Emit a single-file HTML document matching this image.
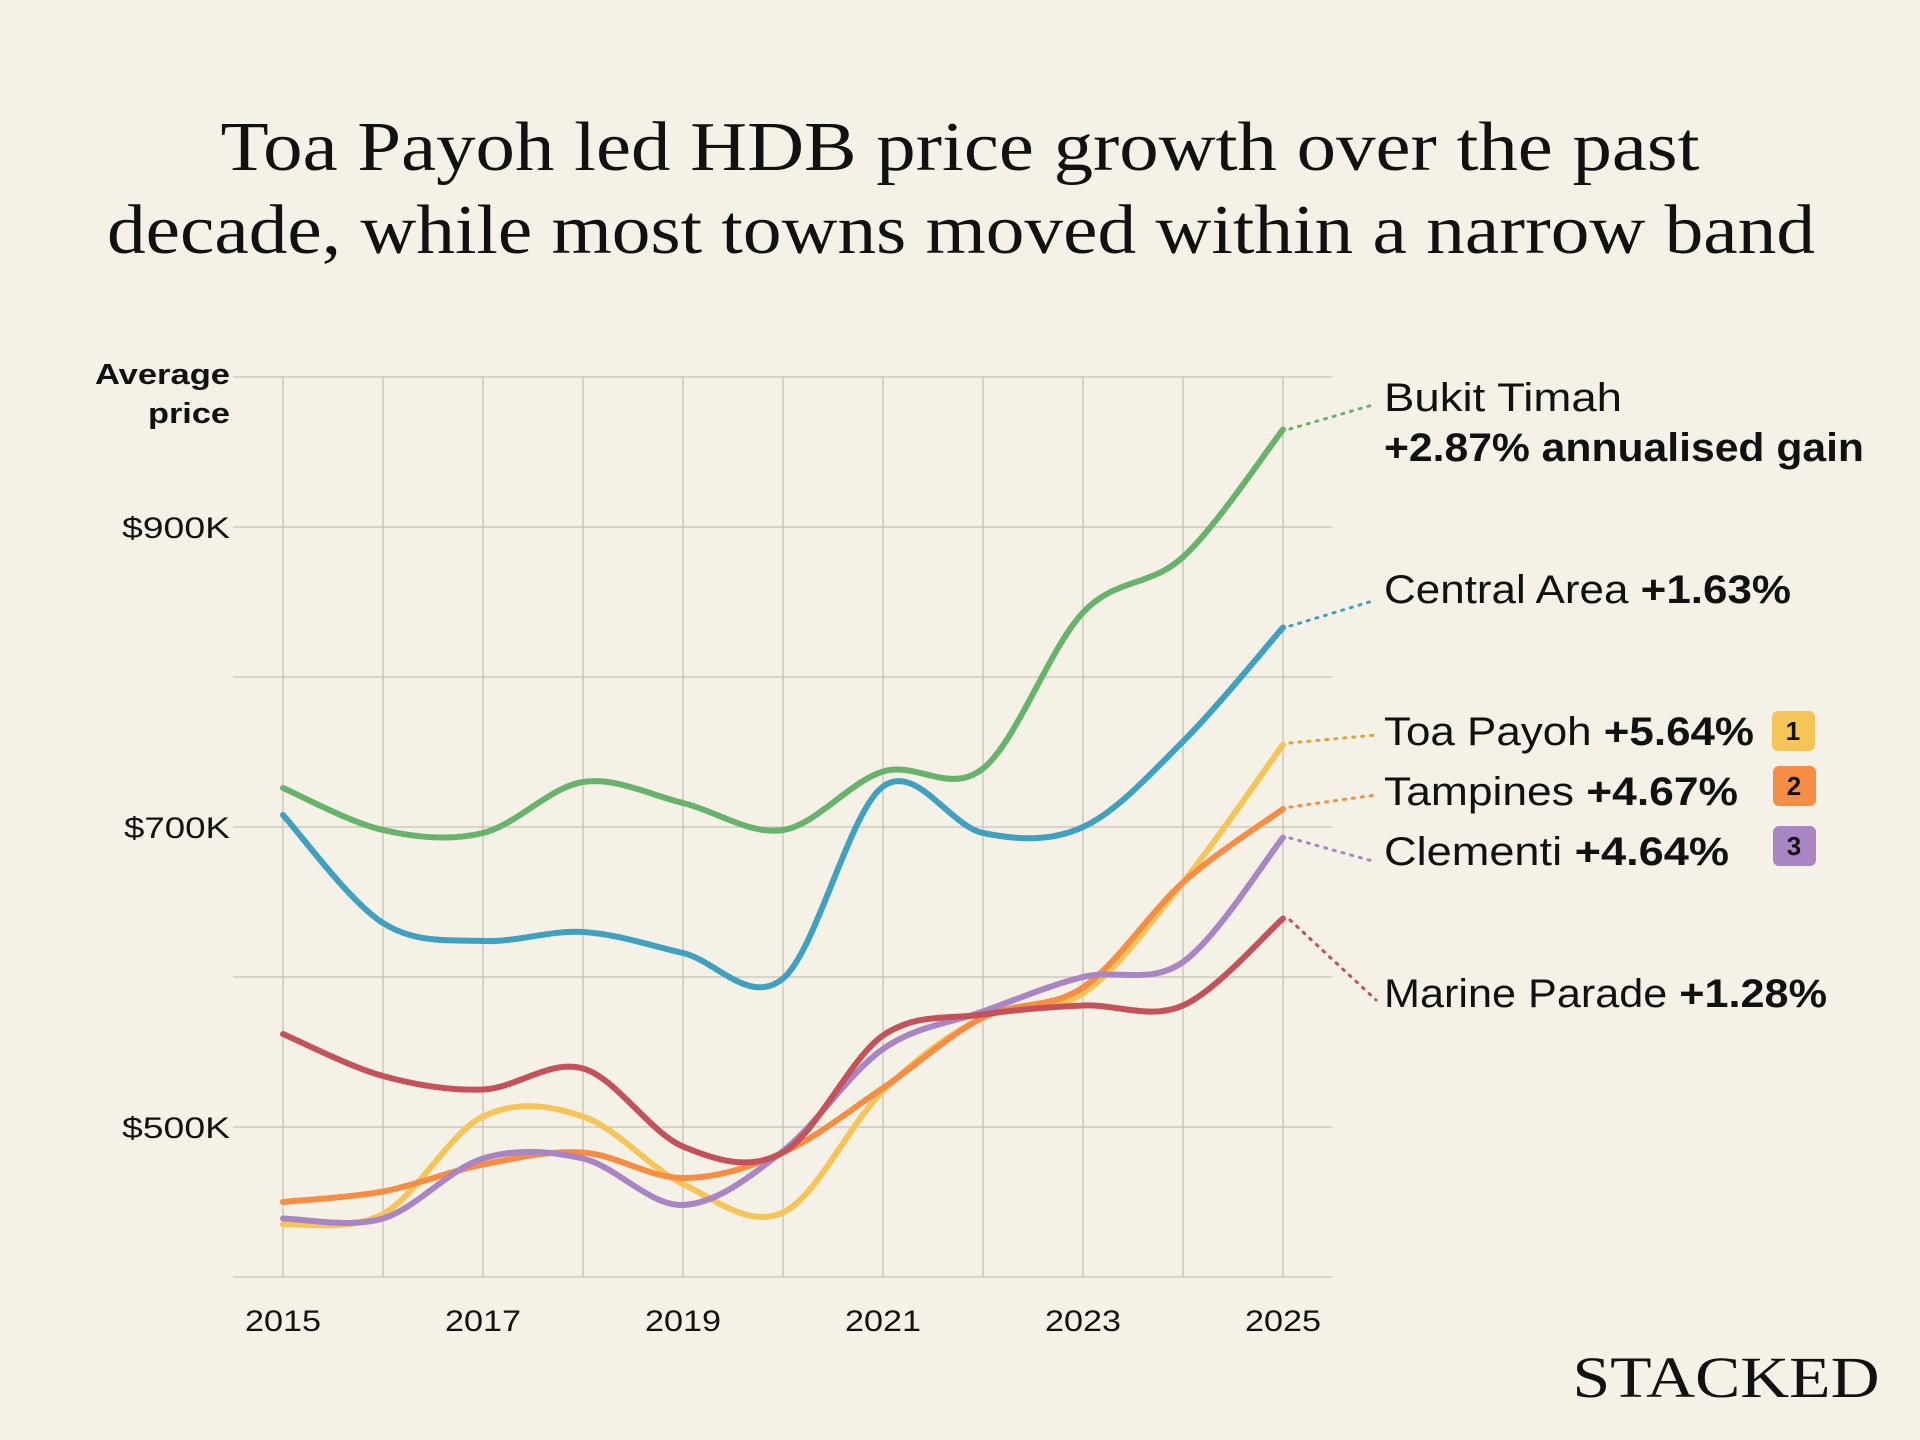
<!DOCTYPE html>
<html><head><meta charset="utf-8"><style>
html,body{margin:0;padding:0;background:#f5f1e6;}
svg{display:block;}
</style></head><body>
<svg id="s" width="1920" height="1440" viewBox="0 0 1920 1440" xmlns="http://www.w3.org/2000/svg">
<rect width="1920" height="1440" fill="#f5f1e6"/>
<g font-family="'Liberation Serif', serif" fill="#111" text-anchor="middle">
<text x="960" y="170" font-size="70" textLength="1479" lengthAdjust="spacingAndGlyphs">Toa Payoh led HDB price growth over the past</text>
<text x="961" y="253" font-size="70" textLength="1708" lengthAdjust="spacingAndGlyphs">decade, while most towns moved within a narrow band</text>
</g>
<g id="grid" stroke="#c6c2b5" stroke-width="1.3"></g>
<g font-family="'Liberation Sans', sans-serif" fill="#111">
<text x="230" y="384" font-size="29" font-weight="bold" text-anchor="end" textLength="135" lengthAdjust="spacingAndGlyphs">Average</text>
<text x="230" y="423" font-size="29" font-weight="bold" text-anchor="end" textLength="82" lengthAdjust="spacingAndGlyphs">price</text>
<text x="230" y="538" font-size="30" text-anchor="end" textLength="108" lengthAdjust="spacingAndGlyphs">$900K</text>
<text x="230" y="838" font-size="30" text-anchor="end" textLength="106" lengthAdjust="spacingAndGlyphs">$700K</text>
<text x="230" y="1138" font-size="30" text-anchor="end" textLength="108" lengthAdjust="spacingAndGlyphs">$500K</text>
<g font-size="30" text-anchor="middle">
<text x="283" y="1331" textLength="76" lengthAdjust="spacingAndGlyphs">2015</text><text x="483" y="1331" textLength="76" lengthAdjust="spacingAndGlyphs">2017</text><text x="683" y="1331" textLength="76" lengthAdjust="spacingAndGlyphs">2019</text>
<text x="883" y="1331" textLength="76" lengthAdjust="spacingAndGlyphs">2021</text><text x="1083" y="1331" textLength="76" lengthAdjust="spacingAndGlyphs">2023</text><text x="1283" y="1331" textLength="76" lengthAdjust="spacingAndGlyphs">2025</text>
</g>
</g>
<g id="lines" fill="none" stroke-width="6" stroke-linecap="round" stroke-linejoin="round"></g>
<g fill="none" stroke-width="3" stroke-dasharray="2 7" stroke-linecap="round">
<line x1="1290" y1="429" x2="1376" y2="404" stroke="#68b36b"/>
<line x1="1290" y1="626" x2="1376" y2="600" stroke="#3fa0c0"/>
<line x1="1290" y1="743" x2="1376" y2="735" stroke="#d9a63a"/>
<line x1="1290" y1="807" x2="1376" y2="795" stroke="#f58d45"/>
<line x1="1290" y1="838" x2="1376" y2="862" stroke="#a985c4"/>
<line x1="1290" y1="920" x2="1376" y2="1000" stroke="#c4525a"/>
</g>
<g font-family="'Liberation Sans', sans-serif" fill="#111" font-size="40" lengthAdjust="spacingAndGlyphs">
<text x="1384" y="411" textLength="238" lengthAdjust="spacingAndGlyphs">Bukit Timah</text>
<text x="1384" y="461" font-weight="bold" textLength="480" lengthAdjust="spacingAndGlyphs">+2.87% annualised gain</text>
<text x="1384" y="603" textLength="407" lengthAdjust="spacingAndGlyphs">Central Area <tspan font-weight="bold">+1.63%</tspan></text>
<text x="1384" y="745" textLength="370" lengthAdjust="spacingAndGlyphs">Toa Payoh <tspan font-weight="bold">+5.64%</tspan></text>
<text x="1384" y="805" textLength="354" lengthAdjust="spacingAndGlyphs">Tampines <tspan font-weight="bold">+4.67%</tspan></text>
<text x="1384" y="865" textLength="345" lengthAdjust="spacingAndGlyphs">Clementi <tspan font-weight="bold">+4.64%</tspan></text>
<text x="1384" y="1007" textLength="443" lengthAdjust="spacingAndGlyphs">Marine Parade <tspan font-weight="bold">+1.28%</tspan></text>
</g>
<g font-family="'Liberation Sans', sans-serif" font-size="26" font-weight="bold" text-anchor="middle" fill="#111">
<rect x="1772" y="711" width="43" height="40" rx="6" fill="#f5c55a"/><text x="1793" y="740">1</text>
<rect x="1773" y="766" width="43" height="40" rx="6" fill="#f58d45"/><text x="1794" y="795">2</text>
<rect x="1773" y="826" width="43" height="40" rx="6" fill="#a985c4"/><text x="1794" y="855">3</text>
</g>
<text x="1726" y="1397" font-family="'Liberation Serif', serif" font-size="58" text-anchor="middle" fill="#111" textLength="307" lengthAdjust="spacingAndGlyphs">STACKED</text>
</svg>
<script>
var NS="http://www.w3.org/2000/svg";
var g=document.getElementById("grid");
function ln(p,x1,y1,x2,y2){var l=document.createElementNS(NS,"line");l.setAttribute("x1",x1);l.setAttribute("y1",y1);l.setAttribute("x2",x2);l.setAttribute("y2",y2);p.appendChild(l);}
for(var i=0;i<=10;i++){var x=283+100*i;ln(g,x,377,x,1277);}
for(var j=0;j<=6;j++){var y=377+150*j;ln(g,233,y,1332,y);}
function X(i){return 283+100*i;}function Y(v){return 1127-(v-500)*1.5;}
var data=[
["#68b36b",[726,698,696,730,716,698,737,739,843,880,965]],
["#3fa0c0",[708,636,624,630,616,599,727,696,700,757,833]],
["#f5c55a",[435,442,507,507,462,443,524,573,589,663,755]],
["#f58d45",[450,457,475,483,466,483,526,573,593,663,712]],
["#a985c4",[439,439,479,479,448,484,552,577,600,610,693]],
["#c4525a",[562,534,525,539,487,483,561,575,581,581,639]]];
var L=document.getElementById("lines");
data.forEach(function(s){
 var p=s[1].map(function(v,i){return [X(i),Y(v)];});
 var d="M"+p[0][0]+","+p[0][1];
 var t=1/6;
 for(var i=0;i<p.length-1;i++){
  var p0=p[i-1]||p[i],p1=p[i],p2=p[i+1],p3=p[i+2]||p[i+1];
  var c1=[p1[0]+(p2[0]-p0[0])*t, p1[1]+(p2[1]-p0[1])*t];
  var c2=[p2[0]-(p3[0]-p1[0])*t, p2[1]-(p3[1]-p1[1])*t];
  d+=" C"+c1[0]+","+c1[1]+" "+c2[0]+","+c2[1]+" "+p2[0]+","+p2[1];
 }
 var e=document.createElementNS(NS,"path");e.setAttribute("d",d);e.setAttribute("stroke",s[0]);L.appendChild(e);
});
</script>
</body></html>
